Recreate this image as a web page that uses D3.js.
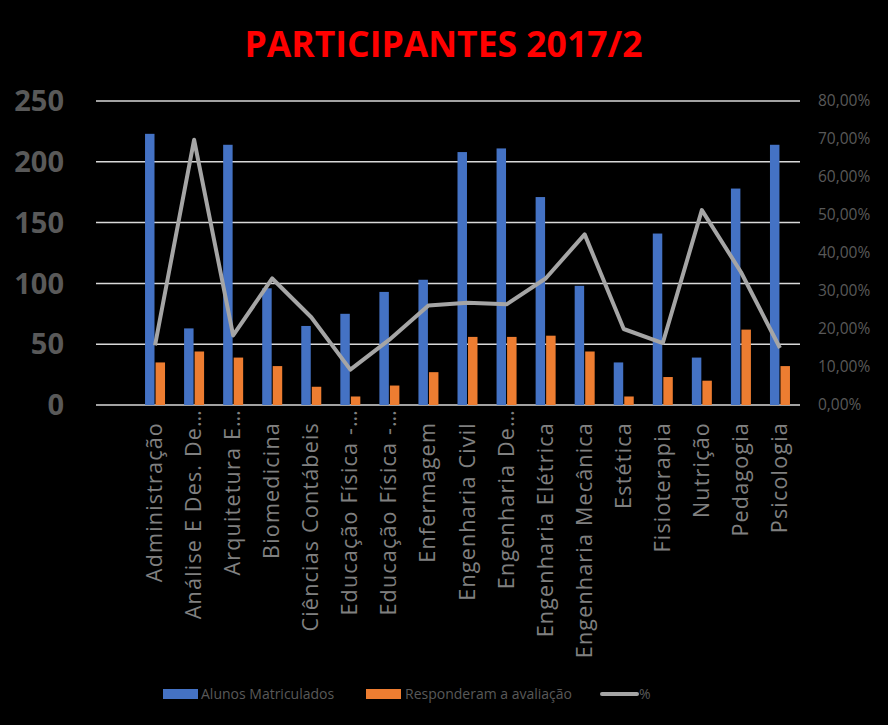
<!DOCTYPE html>
<html><head><meta charset="utf-8">
<script src="https://cdn.jsdelivr.net/npm/d3@7"></script>
<style>html,body{margin:0;padding:0;background:#000;}svg{display:block;}</style>
</head><body>
<script>
const categories = ["Administração","Análise E Des. De…","Arquitetura E…","Biomedicina","Ciências Contábeis","Educação Física -…","Educação Física -…","Enfermagem","Engenharia Civil","Engenharia De…","Engenharia Elétrica","Engenharia Mecânica","Estética","Fisioterapia","Nutrição","Pedagogia","Psicologia"];
const truncated = [false,true,true,false,false,true,true,false,false,true,false,false,false,false,false,false,false];
const matriculados = [223,63,214,96,65,75,93,103,208,211,171,98,35,141,39,178,214];
const responderam = [35,44,39,32,15,7,16,27,56,56,57,44,7,23,20,62,32];
const percentual = [0.157,0.698,0.183,0.333,0.231,0.093,0.172,0.262,0.269,0.265,0.333,0.449,0.20,0.163,0.513,0.35,0.15];
const leftTicks = [0,50,100,150,200,250];
const rightTicks = [0,0.1,0.2,0.3,0.4,0.5,0.6,0.7,0.8];
const seriesNames = ["Alunos Matriculados","Responderam a avaliação","%"];
const title = "PARTICIPANTES 2017/2";

const W=888,H=725;
const svg=d3.select("body").append("svg").attr("width",W).attr("height",H);
svg.append("rect").attr("width",W).attr("height",H).attr("fill","#000");

const x=d3.scaleBand().domain(d3.range(categories.length)).range([135.5,799.5]).padding(0);
const bw=x.bandwidth();
const xs=d3.scaleBand().domain([0,1]).range([bw/2-10,bw/2+10]).paddingInner(0.1);
const yL=d3.scaleLinear().domain([0,250]).range([405,101]);
const yR=d3.scaleLinear().domain([0,0.8]).range([405,101]);
const loc=d3.formatLocale({decimal:",",thousands:".",grouping:[3],currency:["R$",""]});
const pct=loc.format(".2%");

// title
svg.append("text").attr("x",443.5).attr("y",57).attr("text-anchor","middle")
  .attr("font-family","Open Sans").attr("font-weight","bold").attr("font-size",35.5)
  .attr("fill","#ff0000").text(title);

// gridlines
svg.append("g").selectAll("line").data(leftTicks).join("line")
  .attr("x1",96).attr("x2",800).attr("y1",d=>yL(d)).attr("y2",d=>yL(d))
  .attr("stroke","#d9d9d9").attr("stroke-width",1.5);

// left axis labels
svg.append("g").selectAll("text").data(leftTicks).join("text")
  .attr("x",64).attr("y",d=>yL(d)).attr("dy","0.35em").attr("text-anchor","end")
  .attr("font-family","Open Sans").attr("font-weight","bold").attr("font-size",29)
  .attr("fill","#595959").text(d=>d);

// right axis labels
svg.append("g").selectAll("text").data(rightTicks).join("text")
  .attr("x",818).attr("y",d=>yR(d)).attr("dy","0.35em").attr("text-anchor","start")
  .attr("font-family","Open Sans").attr("font-size",15.5)
  .attr("fill","#595959").text(d=>pct(d));

// bars
const g=svg.append("g");
g.selectAll("rect.m").data(matriculados).join("rect").attr("class","m")
  .attr("x",(d,i)=>x(i)+xs(0)).attr("width",xs.bandwidth())
  .attr("y",d=>yL(d)).attr("height",d=>yL(0)-yL(d)).attr("fill","#4472c4");
g.selectAll("rect.r").data(responderam).join("rect").attr("class","r")
  .attr("x",(d,i)=>x(i)+xs(1)).attr("width",xs.bandwidth())
  .attr("y",d=>yL(d)).attr("height",d=>yL(0)-yL(d)).attr("fill","#ed7d31");

// line
const line=d3.line().x((d,i)=>x(i)+bw/2).y(d=>yR(d));
svg.append("path").datum(percentual).attr("d",line).attr("fill","none")
  .attr("stroke","#a5a5a5").attr("stroke-width",4).attr("stroke-linejoin","round");

// x labels
svg.append("g").selectAll("text").data(categories).join("text")
  .attr("transform",(d,i)=>`translate(${x(i)+bw/2+7},${truncated[i]?409:422}) rotate(-90)`)
  .attr("text-anchor","end")
  .attr("font-family","Open Sans").attr("font-size",21.5).attr("letter-spacing",1.2)
  .attr("fill","#808080").text(d=>d);

// legend
const leg=svg.append("g").attr("font-family","Open Sans").attr("font-size",14).attr("fill","#595959");
leg.append("rect").attr("x",163).attr("y",689).attr("width",35).attr("height",10).attr("fill","#4472c4");
leg.append("text").attr("x",201).attr("y",694).attr("dy","0.35em").text(seriesNames[0]);
leg.append("rect").attr("x",366).attr("y",689).attr("width",35).attr("height",10).attr("fill","#ed7d31");
leg.append("text").attr("x",405).attr("y",694).attr("dy","0.35em").text(seriesNames[1]);
leg.append("line").attr("x1",602).attr("x2",637).attr("y1",694).attr("y2",694)
  .attr("stroke","#a5a5a5").attr("stroke-width",4).attr("stroke-linecap","round");
leg.append("text").attr("x",639).attr("y",694).attr("dy","0.35em").text(seriesNames[2]);
</script>
</body></html>
